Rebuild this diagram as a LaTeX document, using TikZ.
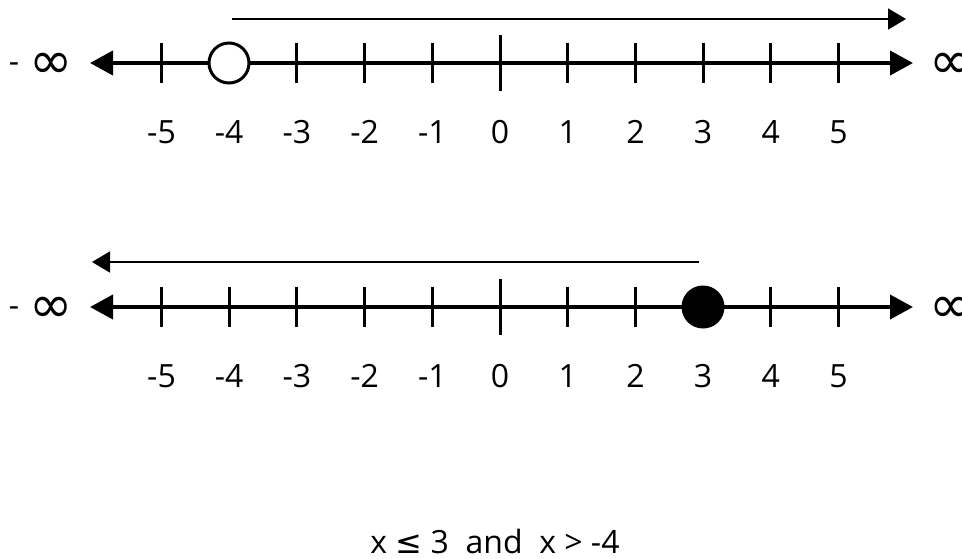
\documentclass[tikz,border=0pt]{standalone}
\usepackage{fontspec}
\setmainfont{Open Sans}
\newfontfamily\symfont{DejaVu Sans}
\usetikzlibrary{arrows.meta}
\newcommand{\bigInf}{\raisebox{-3pt}{\symfont\fontsize{26}{28}\selectfont ∞}}

\begin{document}
\begin{tikzpicture}[x=0.5pt,y=-0.5pt,
        axis/.style={line width=2pt,{Triangle[length=11.5pt,width=12pt]}-{Triangle[length=11.5pt,width=12pt]}},
        tick/.style={line width=1.5pt},
        ray/.style={line width=0.9pt,-{Triangle[length=9pt,width=10.5pt]}},
        num/.style={font=\fontsize{16}{19}\selectfont},
        dot/.style={draw,circle,line width=1.5pt,inner sep=0pt,minimum size=20pt}]
    \useasboundingbox (0,0) rectangle (962,558);
    % upper line: x > -4
    \coordinate (a1) at (90,63);
    \coordinate (b1) at (913,63);
    \draw[axis] (a1) -- (b1);
    \foreach \n in {-5,...,5}{
        \draw[tick] (500+67.7*\n,43) -- (500+67.7*\n,83);
        \node[num] (top\n) at (500+67.7*\n,132) {\n};
    }
    \draw[tick] (500,35) -- (500,91);
    \node[dot,fill=white] (open) at (229,63) {};
    \node[num,anchor=base east,inner sep=0pt] (ninf1) at (73,72) {-\hspace{5pt}\bigInf};
    \node[num,anchor=base west,inner sep=0pt] (pinf1) at (929,72) {\bigInf};
    \coordinate (r1) at (232,19);
    \coordinate (s1) at (906,19);
    \draw[ray] (r1) -- (s1);
    % lower line: x <= 3
    \coordinate (a2) at (90,307);
    \coordinate (b2) at (913,307);
    \draw[axis] (a2) -- (b2);
    \foreach \n in {-5,...,5}{
        \draw[tick] (500+67.7*\n,287) -- (500+67.7*\n,327);
        \node[num] (bot\n) at (500+67.7*\n,376) {\n};
    }
    \draw[tick] (500,279) -- (500,335);
    \node[dot,fill=black] (closed) at (703,307) {};
    \node[num,anchor=base east,inner sep=0pt] (ninf2) at (73,316) {-\hspace{5pt}\bigInf};
    \node[num,anchor=base west,inner sep=0pt] (pinf2) at (929,316) {\bigInf};
    \coordinate (r2) at (699,262);
    \coordinate (s2) at (92,262);
    \draw[ray] (r2) -- (s2);
    % solution
    \node[num] (sol) at (495,541) {x {\symfont≤} 3 \ and \ x > -4};
\end{tikzpicture}
\end{document}
